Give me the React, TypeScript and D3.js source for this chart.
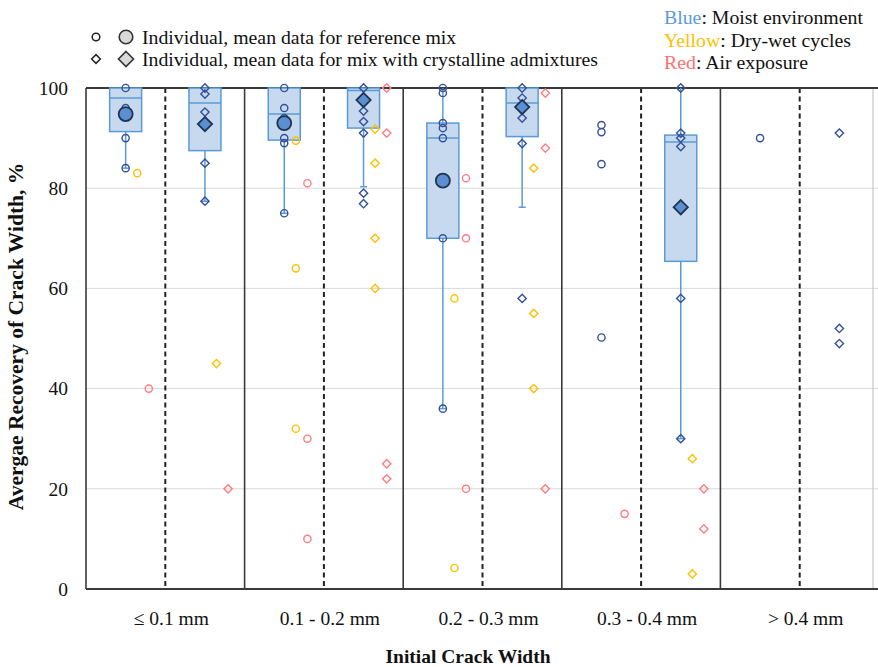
import React from "react";
import * as d3 from "d3";

const categories = ["≤ 0.1 mm", "0.1 - 0.2 mm", "0.2 - 0.3 mm", "0.3 - 0.4 mm", "> 0.4 mm"];
const mixes = ["reference", "crystalline"];
const yTicks = [0, 20, 40, 60, 80, 100];

// reference mix (circles)
const refBlue = [[100, 96, 90, 84], [100, 96, 94, 90, 89, 75], [100, 99, 93, 92, 90, 70, 36], [92.6, 91.2, 84.8, 50.2], [90]];
const refYellow = [[83], [89.5, 64, 32], [58, 4.2], [], []];
const refRed = [[40], [81, 30, 10], [82, 70, 20], [15], []];
const refMean = [94.8, 93, 81.5, null, null];
// [whisker low, q1, median, q3, whisker high]
const refBox = [[84, 91.3, 98, 100, 100], [75, 89.6, 94.8, 100, 100], [36, 70, 90, 93, 100], null, null];

// mix with crystalline admixtures (diamonds)
const crysBlue = [[100, 98.8, 95.2, 85, 77.4], [100, 95.4, 93.3, 91, 79, 76.9], [100, 98, 94, 88.9, 58], [100, 91, 90, 88.3, 58, 30], [91, 52, 49]];
const crysYellow = [[45], [91.8, 85, 70, 60], [84, 55, 40], [26, 3], []];
const crysRed = [[20], [100, 91, 25, 22], [99, 88, 20], [20, 12], []];
const crysMean = [92.8, 97.6, 96.2, 76.2, null];
const crysBox = [[77.4, 87.5, 97, 100, 100], [80.3, 92, 99.5, 100, 100], [76.2, 90.3, 97, 100, 100], [30, 65.4, 89.2, 90.6, 100], null];

const W = 878;
const H = 667;
const FONT = "'Liberation Serif', 'Times New Roman', 'DejaVu Serif', serif";
const BLUE = "#34509a";
const YELLOW = "#ffc000";
const RED = "#ff7c80";
const BOX_FILL = "#c6d9ef";
const BOX_LINE = "#5b9bd5";

const y = d3.scaleLinear().domain([0, 100]).range([589, 88]);
const x = d3.scaleBand().domain(categories).range([86, 879]);
const sub = d3.scaleBand().domain(mixes).range([0, x.bandwidth()]);

const diamond = (r: number) => `M0,${-r}L${r},0L0,${r}L${-r},0Z`;

function Marker({ shape, cx, cy, r, stroke, fill = "none", sw = 1.4 }: any) {
  if (shape === "circle")
    return <circle cx={cx} cy={cy} r={r} stroke={stroke} fill={fill} strokeWidth={sw} />;
  return <path d={diamond(r * 1.15)} transform={`translate(${cx},${cy})`} stroke={stroke} fill={fill} strokeWidth={sw} />;
}

function Group({ i, mix }: { i: number; mix: string }) {
  const isRef = mix === "reference";
  const shape = isRef ? "circle" : "diamond";
  const blue = (isRef ? refBlue : crysBlue)[i];
  const yellow = (isRef ? refYellow : crysYellow)[i];
  const red = (isRef ? refRed : crysRed)[i];
  const mean = (isRef ? refMean : crysMean)[i];
  const box = (isRef ? refBox : crysBox)[i];
  const cx = (x(categories[i]) as number) + (sub(mix) as number) + sub.bandwidth() / 2;
  const bw = 32;
  const off = sub.bandwidth() * 0.146;
  return (
    <g>
      {box && (
        <g stroke={BOX_LINE} strokeWidth={1.5}>
          <line x1={cx} x2={cx} y1={y(box[0])} y2={y(box[1])} />
          <line x1={cx} x2={cx} y1={y(box[3])} y2={y(box[4])} />
          <line x1={cx - 3.5} x2={cx + 3.5} y1={y(box[0])} y2={y(box[0])} />
          <rect x={cx - bw / 2} width={bw} y={y(box[3])} height={y(box[1]) - y(box[3])} fill={BOX_FILL} />
          <line x1={cx - bw / 2} x2={cx + bw / 2} y1={y(box[2])} y2={y(box[2])} />
        </g>
      )}
      {blue.map((v, k) => <Marker key={"b" + k} shape={shape} cx={cx} cy={y(v)} r={3.6} stroke={BLUE} />)}
      {yellow.map((v, k) => <Marker key={"y" + k} shape={shape} cx={cx + off} cy={y(v)} r={3.6} stroke={YELLOW} />)}
      {red.map((v, k) => <Marker key={"r" + k} shape={shape} cx={cx + off * 2} cy={y(v)} r={3.6} stroke={RED} />)}
      {mean != null && <Marker shape={shape} cx={cx} cy={y(mean)} r={isRef ? 7 : 6.2} stroke="#1f3354" fill="#5b8fcf" sw={1.8} />}
    </g>
  );
}

export default function App() {
  const [x0, x1] = x.range();
  return (
    <svg width={W} height={H} style={{ position: "absolute", left: 0, top: 0, background: "#fff", fontFamily: FONT }}>
      {/* gridlines */}
      {yTicks.filter(t => t > 0 && t < 100).map(t => (
        <line key={t} x1={x0} x2={x1} y1={y(t)} y2={y(t)} stroke="#d9d9d9" strokeWidth={1} />
      ))}
      {/* dashed separators between mixes */}
      {categories.map(c => (
        <line key={c} x1={(x(c) as number) + x.bandwidth() / 2} x2={(x(c) as number) + x.bandwidth() / 2}
          y1={y(100)} y2={y(0)} stroke="#222" strokeWidth={2} strokeDasharray="5,3.5" />
      ))}
      {/* group frames */}
      {categories.map(c => (
        <line key={c} x1={x(c)} x2={x(c)} y1={y(100)} y2={y(0)} stroke="#3a3a3a" strokeWidth={1.6} />
      ))}
      <line x1={x1 - 6} x2={x1 - 6} y1={y(100)} y2={y(0)} stroke="#bbb" strokeWidth={1} />
      <line x1={x0} x2={x1} y1={y(100)} y2={y(100)} stroke="#3a3a3a" strokeWidth={1.8} />
      <line x1={x0} x2={x1} y1={y(0)} y2={y(0)} stroke="#3a3a3a" strokeWidth={1.8} />

      {categories.map((c, i) => mixes.map(m => <Group key={c + m} i={i} mix={m} />))}

      {/* y axis labels */}
      {yTicks.map(t => (
        <text key={t} x={68} y={y(t)} dy="0.35em" textAnchor="end" fontSize={19.5} fill="#111">{t}</text>
      ))}
      <text transform={`translate(23,${(y(0) + y(100)) / 2 - 2}) rotate(-90)`} textAnchor="middle" fontSize={21.5} fontWeight="bold" fill="#111">
        Avergae Recovery of Crack Width, %
      </text>

      {/* x axis labels */}
      {categories.map(c => (
        <text key={c} x={(x(c) as number) + x.bandwidth() / 2 + 6} y={625} textAnchor="middle" fontSize={19.5} fill="#111">{c}</text>
      ))}
      <text x={468} y={663} textAnchor="middle" fontSize={19.5} fontWeight="bold" fill="#111">Initial Crack Width</text>

      {/* legend: markers */}
      <g>
        <circle cx={96} cy={37} r={3.8} fill="none" stroke="#222" strokeWidth={1.5} />
        <circle cx={126} cy={37} r={6.8} fill="#d9d9d9" stroke="#333" strokeWidth={1.6} />
        <text x={142} y={44} fontSize={19.8} fill="#111">Individual, mean data for reference mix</text>
        <path d={diamond(4.4)} transform="translate(96,59)" fill="none" stroke="#222" strokeWidth={1.5} />
        <path d={diamond(7.5)} transform="translate(126,59)" fill="#d9d9d9" stroke="#333" strokeWidth={1.6} />
        <text x={142} y={66} fontSize={19.8} fill="#111">Individual, mean data for mix with crystalline admixtures</text>
      </g>
      <g fontSize={19.8} fill="#111">
        <text x={664} y={24}><tspan fill="#5b9bd5">Blue</tspan>: Moist environment</text>
        <text x={664} y={47}><tspan fill="#ffc000">Yellow</tspan>:  Dry-wet cycles</text>
        <text x={664} y={69}><tspan fill="#ff6f6f">Red</tspan>: Air exposure</text>
      </g>
    </svg>
  );
}
